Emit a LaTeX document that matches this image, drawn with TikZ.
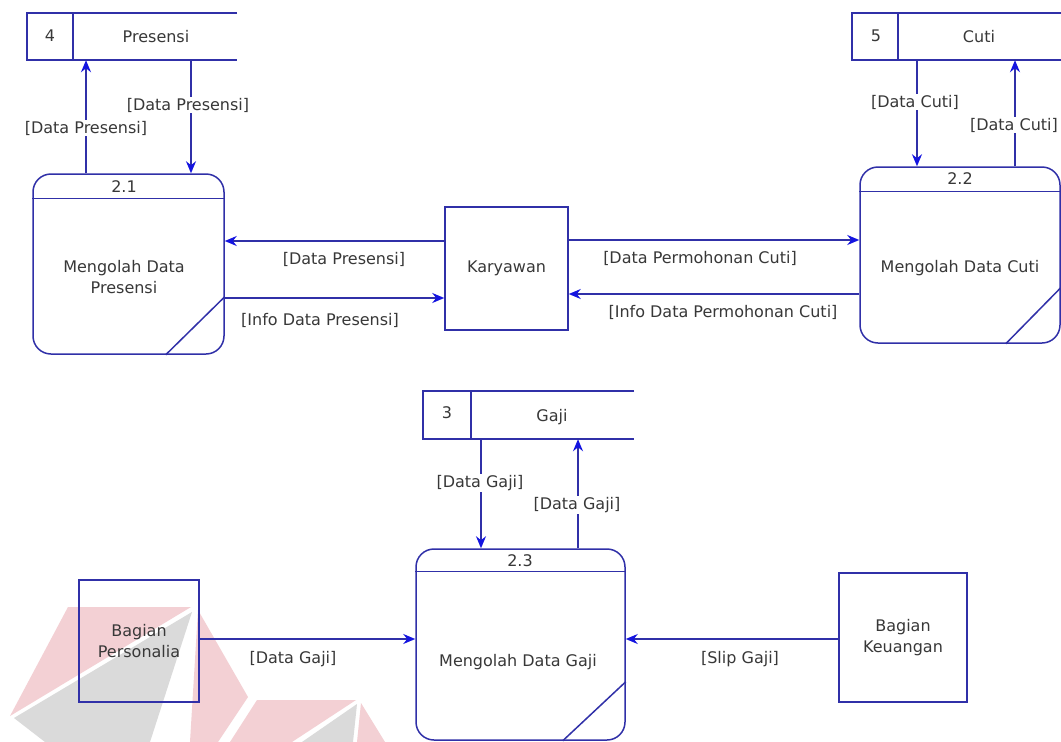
\documentclass[tikz,border=0pt]{standalone}
\usepackage{fontspec}
\setmainfont{DejaVu Sans}
\usetikzlibrary{arrows.meta,calc}
\definecolor{ln}{HTML}{3030A8}
\definecolor{ah}{HTML}{1414E0}
\definecolor{tx}{HTML}{383838}
\definecolor{wmr}{HTML}{F3D0D4}
\definecolor{wmg}{HTML}{DADADA}
\begin{document}
\begin{tikzpicture}[x=1pt,y=-1pt,
  every node/.style={font=\fontsize{16}{21}\selectfont, text=tx},
  line/.style={draw=ln, line width=1.5pt},
  proc/.style={draw=ln, line width=1.5pt, rounded corners=18pt, inner sep=0pt},
  ent/.style={draw=ln, line width=1.5pt, inner sep=0pt, align=center},
  store/.style={inner sep=0pt},
  flow/.style={draw=ln, line width=1.5pt, -{Stealth[length=12pt,width=10pt,color=ah]}},
  lbl/.style={fill=white, inner sep=1pt},
  wmred/.style={fill=wmr, draw=none},
  wmgrey/.style={fill=wmg, draw=none}]
\useasboundingbox (0,0) rectangle (1061,742);
\fill[white] (0,0) rectangle (1061,742);

% watermark
\path[wmred] (68,607) -- (191,607) -- (10,716) -- cycle;
\path[wmgrey] (192,612) -- (14,718) -- (45,742) -- (150,742) -- cycle;
\path[wmred] (198,610) -- (248,697) -- (218,742) -- (190,742) -- cycle;
\path[wmred] (257,700) -- (356,700) -- (292,742) -- (230,742) -- cycle;
\path[wmgrey] (357,704) -- (302,742) -- (353,742) -- cycle;
\path[wmred] (361,703) -- (385,742) -- (357,742) -- cycle;

% data stores
\node[store, minimum width=210, minimum height=47] (s4) at (132,36.5) {};
\draw[line] (s4.north east) -- (s4.north west) -- (s4.south west) -- (s4.south east);
\draw[line] ([xshift=46pt]s4.north west) -- ([xshift=46pt]s4.south west);
\node (s4n) at (50,36) {4};
\node (s4t) at (156,37) {Presensi};

\node[store, minimum width=212, minimum height=47] (s5) at (958,36.5) {};
\draw[line] (s5.north east) -- (s5.north west) -- (s5.south west) -- (s5.south east);
\draw[line] ([xshift=46pt]s5.north west) -- ([xshift=46pt]s5.south west);
\node (s5n) at (876,36) {5};
\node (s5t) at (979,37) {Cuti};

\node[store, minimum width=211, minimum height=48] (s3) at (528.5,415) {};
\draw[line] (s3.north east) -- (s3.north west) -- (s3.south west) -- (s3.south east);
\draw[line] ([xshift=48pt]s3.north west) -- ([xshift=48pt]s3.south west);
\node (s3n) at (447,413) {3};
\node (s3t) at (552,417) {Gaji};

% processes
\node[proc, minimum width=191, minimum height=180] (p21) at (128.5,264) {};
\draw[line] ([yshift=-25pt]p21.north west) -- ([yshift=-25pt]p21.north east);
\draw[line] ([xshift=-59pt]p21.south east) -- ([yshift=58pt]p21.south east);
\node (p21n) at (124,186.5) {2.1};
\node[align=center] (p21t) at (124,277) {Mengolah Data\\Presensi};

\node[proc, minimum width=200, minimum height=176] (p22) at (960,255) {};
\draw[line] ([yshift=-25pt]p22.north west) -- ([yshift=-25pt]p22.north east);
\draw[line] ([xshift=-55pt]p22.south east) -- ([yshift=56pt]p22.south east);
\node (p22n) at (960,179) {2.2};
\node (p22t) at (960,268) {Mengolah Data Cuti};

\node[proc, minimum width=209, minimum height=191] (p23) at (520.5,644.5) {};
\draw[line] ([yshift=-23pt]p23.north west) -- ([yshift=-23pt]p23.north east);
\draw[line] ([xshift=-63pt]p23.south east) -- ([yshift=59pt]p23.south east);
\node (p23n) at (520,560.5) {2.3};
\node (p23t) at (518,662) {Mengolah Data Gaji};

% external entities
\node[ent, minimum width=123, minimum height=123] (ka) at (506.5,268.5) {Karyawan};
\node[ent, minimum width=120, minimum height=122] (bp) at (139,641) {Bagian\\Personalia};
\node[ent, minimum width=128, minimum height=129] (bk) at (903,637.5) {Bagian\\Keuangan};

% flows: Presensi
\path (p21.north) ++(-42.5,0) coordinate (c1);
\path (p21.north) ++(62.5,0) coordinate (c2);
\draw[flow] (c1) -- (c1 |- s4.south);
\draw[flow] (c2 |- s4.south) -- (c2);
\node[lbl] (l1) at (86,128) {[Data Presensi]};
\node[lbl] (l2) at (188,105) {[Data Presensi]};

% flows: Cuti
\path (p22.north) ++(-43,0) coordinate (c7);
\path (p22.north) ++(55,0) coordinate (c8);
\draw[flow] (c7 |- s5.south) -- (c7);
\draw[flow] (c8) -- (c8 |- s5.south);
\node[lbl] (l7) at (915,102) {[Data Cuti]};
\node[lbl] (l8) at (1014,125) {[Data Cuti]};

% flows: Gaji
\path (p23.north) ++(-39.5,0) coordinate (c9);
\path (p23.north) ++(57.5,0) coordinate (c10);
\draw[flow] (c9 |- s3.south) -- (c9);
\draw[flow] (c10) -- (c10 |- s3.south);
\node[lbl] (l9) at (480,483) {[Data Gaji]};
\node[lbl] (l10) at (577,505) {[Data Gaji]};

% flows: Karyawan
\path (ka.west) ++(0,-27.5) coordinate (k1);
\path (ka.west) ++(0,29.5) coordinate (k2);
\path (ka.east) ++(0,-28.5) coordinate (k3);
\path (ka.east) ++(0,25.5) coordinate (k4);
\draw[flow] (k1) -- (k1 -| p21.east);
\draw[flow] (k2 -| p21.east) -- (k2);
\draw[flow] (k3) -- (k3 -| p22.west);
\draw[flow] (k4 -| p22.west) -- (k4);
\node (l3) at (344,259) {[Data Presensi]};
\node (l4) at (320,320) {[Info Data Presensi]};
\node (l5) at (700,258) {[Data Permohonan Cuti]};
\node (l6) at (723,312) {[Info Data Permohonan Cuti]};

% flows: Bagian
\path (bp.east) ++(0,-2) coordinate (b1);
\path (bk.west) ++(0,1.5) coordinate (b2);
\draw[flow] (b1) -- (b1 -| p23.west);
\draw[flow] (b2) -- (b2 -| p23.east);
\node (l11) at (293,659) {[Data Gaji]};
\node (l12) at (740,659) {[Slip Gaji]};
\end{tikzpicture}
\end{document}
